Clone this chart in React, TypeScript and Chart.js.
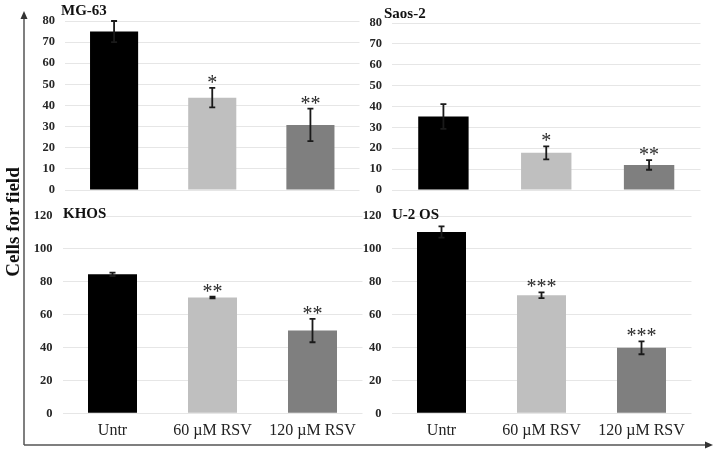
import React, { useEffect, useRef } from "react";
import { Chart, registerables } from "chart.js";

Chart.register(...registerables);

const categories = ["Untr", "60 µM RSV", "120 µM RSV"];
const barColors = ["#000000", "#bfbfbf", "#7f7f7f"];

const mg63Values = [75, 43.7, 30.8];
const mg63Errors = [5, 4.6, 7.7];
const mg63Stars = ["", "*", "**"];

const saosValues = [35.2, 17.8, 12.0];
const saosErrors = [5.9, 3.1, 2.3];
const saosStars = ["", "*", "**"];

const khosValues = [84.5, 70.4, 50.3];
const khosErrors = [1.0, 0.5, 7.1];
const khosStars = ["", "**", "**"];

const u2osValues = [110.3, 71.8, 39.8];
const u2osErrors = [3.4, 1.8, 3.9];
const u2osStars = ["", "***", "***"];

const yTitle = "Cells for field";
const FONT = '"Liberation Serif", "Times New Roman", serif';

type Panel = {
  title: string;
  values: number[];
  errors: number[];
  stars: string[];
  max: number;
  step: number;
  left: number;
  top: number;
  width: number;
  height: number;
  yWidth: number;
  padTop: number;
  padRight: number;
  padBottom: number;
  showX: boolean;
  xHeight: number;
  titleX: number;
  titleY: number;
};

const panels: Panel[] = [
  { title: "MG-63", values: mg63Values, errors: mg63Errors, stars: mg63Stars, max: 80, step: 10,
    left: 0, top: 0, width: 360, height: 200, yWidth: 65, padTop: 21, padRight: 0.5, padBottom: 10,
    showX: false, xHeight: 0, titleX: 61, titleY: 15 },
  { title: "Saos-2", values: saosValues, errors: saosErrors, stars: saosStars, max: 80, step: 10,
    left: 360, top: 0, width: 360, height: 200, yWidth: 32, padTop: 23, padRight: 19.5, padBottom: 10,
    showX: false, xHeight: 0, titleX: 24, titleY: 18 },
  { title: "KHOS", values: khosValues, errors: khosErrors, stars: khosStars, max: 120, step: 20,
    left: 0, top: 200, width: 372, height: 241, yWidth: 62.5, padTop: 16, padRight: 9.5, padBottom: 0,
    showX: true, xHeight: 27.7, titleX: 63, titleY: 18 },
  { title: "U-2 OS", values: u2osValues, errors: u2osErrors, stars: u2osStars, max: 120, step: 20,
    left: 360, top: 200, width: 360, height: 241, yWidth: 31.5, padTop: 16, padRight: 28.5, padBottom: 0,
    showX: true, xHeight: 27.7, titleX: 32, titleY: 19 },
];

function makeExtras(p: Panel) {
  return {
    id: "extras",
    afterDatasetsDraw(chart: any) {
      const ctx = chart.ctx as CanvasRenderingContext2D;
      const meta = chart.getDatasetMeta(0);
      const ys = chart.scales.y;
      ctx.save();
      ctx.strokeStyle = "#1a1a1a";
      ctx.lineWidth = 1.8;
      p.values.forEach((v, i) => {
        const x = meta.data[i].x;
        const top = ys.getPixelForValue(v + p.errors[i]);
        const bot = ys.getPixelForValue(v - p.errors[i]);
        ctx.beginPath();
        ctx.moveTo(x, top);
        ctx.lineTo(x, bot);
        ctx.moveTo(x - 3, top);
        ctx.lineTo(x + 3, top);
        ctx.moveTo(x - 3, bot);
        ctx.lineTo(x + 3, bot);
        ctx.stroke();
        if (p.stars[i]) {
          ctx.font = `20px ${FONT}`;
          ctx.textAlign = "center";
          ctx.textBaseline = "alphabetic";
          ctx.fillStyle = "#2b2b2b";
          ctx.fillText(p.stars[i], x, top + 1);
        }
      });
      ctx.font = `bold 15px ${FONT}`;
      ctx.textAlign = "left";
      ctx.textBaseline = "alphabetic";
      ctx.fillStyle = "#111111";
      ctx.fillText(p.title, p.titleX, p.titleY);
      ctx.restore();
    },
  };
}

function PanelChart({ p }: { p: Panel }) {
  const ref = useRef<HTMLCanvasElement | null>(null);
  useEffect(() => {
    if (!ref.current) return;
    const chart = new Chart(ref.current, {
      type: "bar",
      data: {
        labels: categories,
        datasets: [
          {
            data: p.values,
            backgroundColor: barColors,
            borderWidth: 0,
            barPercentage: 0.49,
            categoryPercentage: 1,
          },
        ],
      },
      options: {
        animation: false,
        responsive: false,
        maintainAspectRatio: false,
        layout: { padding: { top: p.padTop, right: p.padRight, bottom: p.padBottom, left: 0 } },
        plugins: {
          legend: { display: false },
          tooltip: { enabled: false },
          title: { display: false },
        },
        scales: {
          x: {
            display: true,
            grid: { display: false, drawTicks: false },
            border: { display: false },
            ticks: {
              display: p.showX,
              padding: 8,
              color: "#222222",
              font: { family: FONT, size: 16 },
            },
            afterFit: (s: any) => {
              s.height = p.showX ? p.xHeight : 0;
              s.paddingLeft = 0;
              s.paddingRight = 0;
            },
          },
          y: {
            min: 0,
            max: p.max,
            ticks: {
              stepSize: p.step,
              padding: 10,
              color: "#262626",
              font: { family: FONT, size: 12.5, weight: "bold" },
            },
            grid: { color: "#e6e6e6", drawTicks: false, lineWidth: 1 },
            border: { display: false },
            afterFit: (s: any) => {
              s.width = p.yWidth;
              s.paddingTop = 7;
              s.paddingBottom = 7;
            },
          },
        },
      },
      plugins: [makeExtras(p)],
    } as any);
    return () => chart.destroy();
  }, [p]);
  return (
    <canvas
      ref={ref}
      width={p.width}
      height={p.height}
      style={{ position: "absolute", left: p.left, top: p.top, width: p.width, height: p.height }}
    />
  );
}

export default function App() {
  return (
    <div style={{ position: "absolute", left: 0, top: 0, width: 720, height: 454, background: "#ffffff", overflow: "hidden" }}>
      {panels.map((p) => (
        <PanelChart key={p.title} p={p} />
      ))}
      <svg width={720} height={454} style={{ position: "absolute", left: 0, top: 0, pointerEvents: "none" }}>
        <line x1={24} y1={445} x2={24} y2={18} stroke="#555555" strokeWidth={1.5} />
        <polygon points="24,11 20.5,19 27.5,19" fill="#333333" />
        <line x1={24} y1={445} x2={706} y2={445} stroke="#555555" strokeWidth={1.5} />
        <polygon points="713,445 705,441.5 705,448.5" fill="#333333" />
        <text
          transform="translate(18.5,222) rotate(-90)"
          textAnchor="middle"
          fontFamily={FONT}
          fontWeight="bold"
          fontSize={19}
          fill="#111111"
        >
          {yTitle}
        </text>
      </svg>
    </div>
  );
}
